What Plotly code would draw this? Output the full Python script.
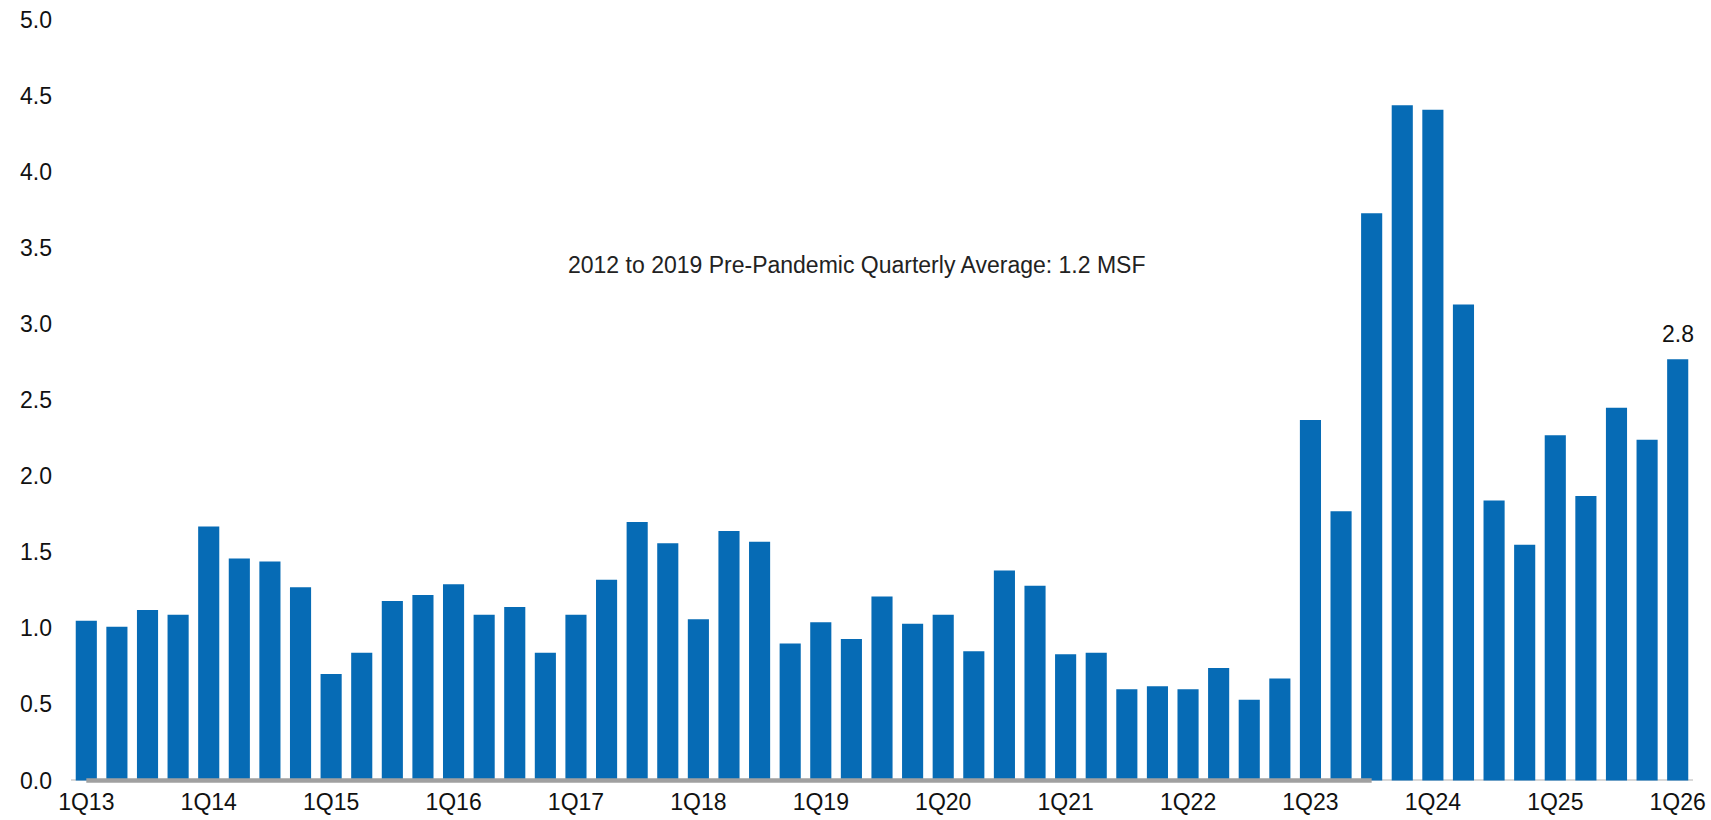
import plotly.graph_objects as go

# Quarterly categories 1Q13 .. 1Q26
quarters = [f"{q}Q{yy}" for yy in range(13, 27) for q in range(1, 5)][:53]

# Quarterly volume, million square feet
volume_msf = [
    1.05, 1.01, 1.12, 1.09,   # 2013
    1.67, 1.46, 1.44, 1.27,   # 2014
    0.70, 0.84, 1.18, 1.22,   # 2015
    1.29, 1.09, 1.14, 0.84,   # 2016
    1.09, 1.32, 1.70, 1.56,   # 2017
    1.06, 1.64, 1.57, 0.90,   # 2018
    1.04, 0.93, 1.21, 1.03,   # 2019
    1.09, 0.85, 1.38, 1.28,   # 2020
    0.83, 0.84, 0.60, 0.62,   # 2021
    0.60, 0.74, 0.53, 0.67,   # 2022
    2.37, 1.77, 3.73, 4.44,   # 2023
    4.41, 3.13, 1.84, 1.55,   # 2024
    2.27, 1.87, 2.45, 2.24,   # 2025
    2.77,                     # 2026
]

tick_labels = quarters[::4]
labelled_quarter = "1Q26"
baseline_end = "3Q23"
avg_note = "2012 to 2019 Pre-Pandemic Quarterly Average: 1.2 MSF"

FONT = "Liberation Sans, Arial, sans-serif"
FONT_SIZE = 23
BAR_BLUE = "#066bb5"
TEXT_COLOR = "#111111"

baseline_x = quarters[: quarters.index(baseline_end) + 1]
baseline_y = [0 for _ in baseline_x]

fig = go.Figure()
fig.add_trace(go.Bar(
    x=quarters,
    y=volume_msf,
    marker=dict(color=BAR_BLUE, line=dict(width=0)),
    showlegend=False,
))
fig.add_trace(go.Scatter(
    x=baseline_x,
    y=baseline_y,
    mode="lines",
    line=dict(color="#a0a0a0", width=4.5),
    showlegend=False,
    hoverinfo="skip",
))

# Value label over the latest quarter
latest_value = volume_msf[quarters.index(labelled_quarter)]
fig.add_annotation(
    x=labelled_quarter, y=latest_value,
    xref="x", yref="y",
    text=f"{latest_value:.1f}",
    showarrow=False,
    yanchor="bottom",
    yshift=10,
    font=dict(family=FONT, size=FONT_SIZE, color=TEXT_COLOR),
)

fig.add_annotation(
    text=avg_note,
    xref="paper", yref="y",
    x=0.4845, y=3.39,
    showarrow=False,
    font=dict(family=FONT, size=FONT_SIZE, color="#222222"),
)

fig.update_layout(
    width=1711, height=820,
    margin=dict(l=71, r=18, t=20, b=35),
    paper_bgcolor="white",
    plot_bgcolor="white",
    bargap=0.31,
    font=dict(family=FONT, size=FONT_SIZE, color=TEXT_COLOR),
    xaxis=dict(
        type="category",
        categoryorder="array",
        categoryarray=quarters,
        range=[-0.5, len(quarters) - 0.5],
        tickmode="array",
        tickvals=tick_labels,
        ticktext=tick_labels,
        showgrid=False,
        showline=False,
        ticks="",
        automargin=False,
        ticklabelstandoff=1,
        tickfont=dict(family=FONT, size=FONT_SIZE, color=TEXT_COLOR),
    ),
    yaxis=dict(
        range=[-0.03, 5.0],
        tickmode="array",
        tickvals=[0, 0.5, 1, 1.5, 2, 2.5, 3, 3.5, 4, 4.5, 5],
        ticktext=["0.0", "0.5", "1.0", "1.5", "2.0", "2.5", "3.0", "3.5", "4.0", "4.5", "5.0"],
        showgrid=False,
        zeroline=True,
        zerolinecolor="#d9d9d9",
        zerolinewidth=2,
        showline=False,
        ticks="",
        automargin=False,
        ticklabelstandoff=18,
        tickfont=dict(family=FONT, size=FONT_SIZE, color=TEXT_COLOR),
    ),
)

fig.write_html("out.html")
